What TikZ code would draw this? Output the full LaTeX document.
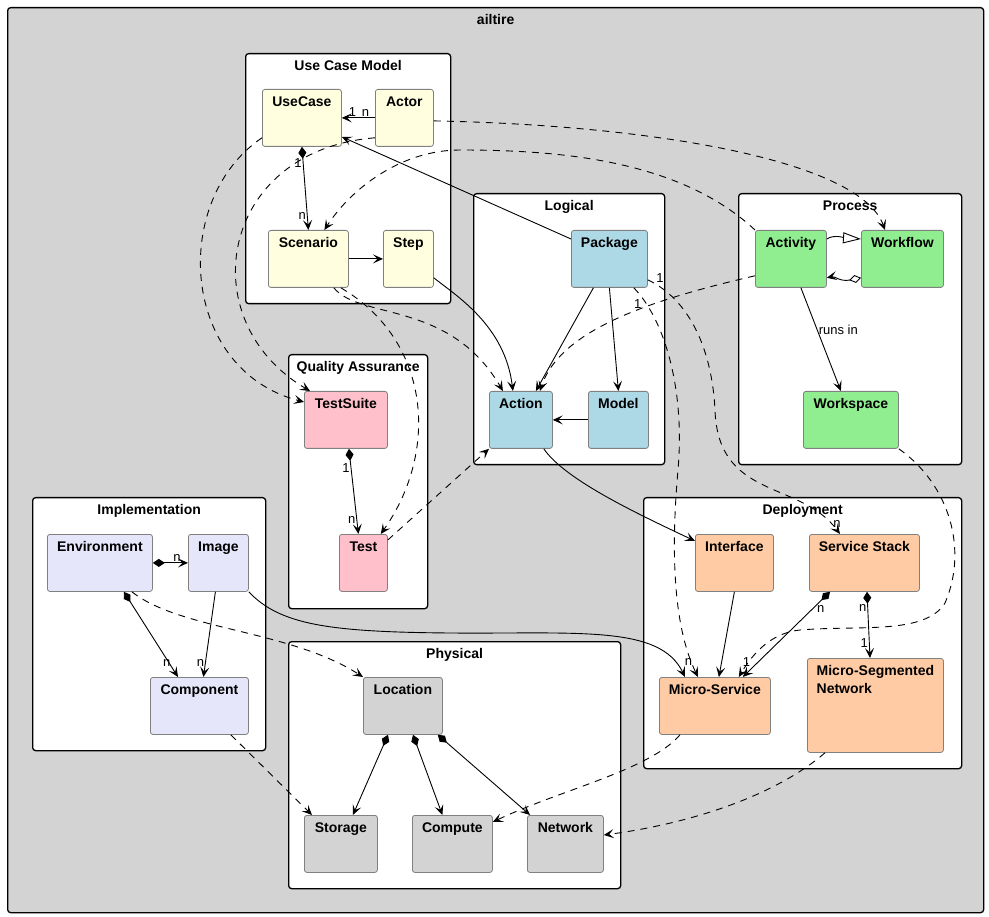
\documentclass[tikz,border=0pt]{standalone}
\usepackage{fontspec}
\setmainfont{Liberation Sans}
\usepackage{xcolor}
\usepackage{tikz}
\usetikzlibrary{calc,arrows.meta}

\definecolor{ucyellow}{HTML}{FFFFE0}
\definecolor{lgblue}{HTML}{ADD8E6}
\definecolor{prgreen}{HTML}{90EE90}
\definecolor{qapink}{HTML}{FFC0CB}
\definecolor{imlav}{HTML}{E6E6FA}
\definecolor{dppeach}{HTML}{FFCBA4}
\definecolor{phgray}{HTML}{D3D3D3}
\definecolor{clsline}{HTML}{808080}

\begin{document}
\begin{tikzpicture}[x=1pt,y=-1pt,line width=0.9pt,>={Stealth[length=10pt,width=9pt,inset=4.5pt]},
	pkg/.style={draw=black,line width=1.3pt,fill=white,rounded corners=3pt,anchor=north west,
		font=\bfseries\fontsize{14pt}{16pt}\selectfont,inner sep=0pt,text height=16.5pt},
	cls/.style={draw=clsline,line width=0.8pt,rounded corners=2.5pt,anchor=north west,
		font=\bfseries\fontsize{14pt}{16pt}\selectfont,inner sep=0pt,text height=17pt,text depth=40pt},
	dep/.style={->,dash pattern=on 7pt off 6pt},
	comp/.style={{Diamond[length=12pt,width=8pt]}->},
	mult/.style={font=\fontsize{13pt}{15pt}\selectfont,inner sep=1pt}]
	
	\fill[white] (0,0) rectangle (989,917);
	\useasboundingbox (0,0) rectangle (989,917);
	
	\node[pkg,fill=phgray,minimum width=976pt,text height=17pt,text depth=888pt] (Sys) at (7,7) {ailtire};
	
	\node[pkg,minimum width=205pt,text depth=233.5pt] (UCM) at (245,53) {Use Case Model};
	\node[pkg,minimum width=191pt,text depth=254.5pt] (LOG) at (473,193) {Logical};
	\node[pkg,minimum width=223pt,text depth=254.5pt] (PRC) at (738,193) {Process};
	\node[pkg,minimum width=139pt,text depth=237.5pt] (QA) at (288,354) {Quality Assurance};
	\node[pkg,minimum width=233pt,text depth=236.5pt] (IMP) at (32,497) {Implementation};
	\node[pkg,minimum width=318pt,text depth=254.5pt] (DEP) at (643,497) {Deployment};
	\node[pkg,minimum width=332pt,text depth=230.5pt] (PHY) at (288,641) {Physical};
	
	\node[cls,fill=ucyellow,minimum width=79pt] (UseCase) at (262,89) {UseCase};
	\node[cls,fill=ucyellow,minimum width=58pt] (Actor) at (375,89) {Actor};
	\node[cls,fill=ucyellow,minimum width=80pt] (Scenario) at (268,230) {Scenario};
	\node[cls,fill=ucyellow,minimum width=50pt] (Step) at (383,230) {Step};
	
	\node[cls,fill=lgblue,minimum width=76pt] (Package) at (571,230) {Package};
	\node[cls,fill=lgblue,minimum width=63pt] (Action) at (489,391) {Action};
	\node[cls,fill=lgblue,minimum width=60pt] (Model) at (588,391) {Model};
	
	\node[cls,fill=prgreen,minimum width=71pt] (Activity) at (755,230) {Activity};
	\node[cls,fill=prgreen,minimum width=82pt] (Workflow) at (861,230) {Workflow};
	\node[cls,fill=prgreen,minimum width=95pt] (Workspace) at (803,391) {Workspace};
	
	\node[cls,fill=qapink,minimum width=83pt] (TestSuite) at (304,391) {TestSuite};
	\node[cls,fill=qapink,minimum width=48pt] (Test) at (339,534) {Test};
	
	\node[cls,fill=imlav,minimum width=105pt] (Env) at (47,534) {Environment};
	\node[cls,fill=imlav,minimum width=60pt] (Image) at (188,534) {Image};
	\node[cls,fill=imlav,minimum width=98pt] (Component) at (150,677) {Component};
	
	\node[cls,fill=dppeach,minimum width=78pt] (Interface) at (695,534) {Interface};
	\node[cls,fill=dppeach,minimum width=110pt] (Stack) at (809,534) {Service Stack};
	\node[cls,fill=dppeach,minimum width=111pt] (MS) at (659,677) {Micro-Service};
	\node[cls,fill=dppeach,minimum width=136pt,font=\bfseries\fontsize{14pt}{18pt}\selectfont,
		text height=35pt,text depth=59pt,align=left] (MSN) at (807,658) {Micro-Segmented\\Network};
	
	\node[cls,fill=phgray,minimum width=79pt] (Location) at (363,677) {Location};
	\node[cls,fill=phgray,minimum width=73pt] (Storage) at (304,815) {Storage};
	\node[cls,fill=phgray,minimum width=80pt] (Compute) at (412,815) {Compute};
	\node[cls,fill=phgray,minimum width=76pt] (Network) at (527,815) {Network};
	
	\draw[->] (Actor.west) -- (UseCase.east) node[mult,pos=0.29,above]{n} node[mult,pos=0.68,above]{1};
	\draw[->] ($(Package.north west)+(0,9)$) -- ($(UseCase.south east)+(0,-10)$);
	\draw[comp] (UseCase.south) -- (Scenario.north) node[mult,pos=0.19,left]{1} node[mult,pos=0.83,left]{n};
	\draw[->] (Scenario.east) -- (Step.west);
	\draw[->] ($(Step.south east)+(0,-10)$) .. controls (455,295) and (505,325) .. ($(Action.north)+(-8,0)$);
	\draw[dep] ($(Actor.east)+(0,3)$) .. controls (650,125) and (860,160) .. ($(Workflow.north west)+(24,0)$);
	\draw[dep] (Activity.north west) .. controls (680,160) and (560,150) .. (460,150) .. controls (400,150) and (350,190) .. ($(Scenario.north)+(16,0)$);
	\draw[dep] ($(UseCase.south west)+(0,-9)$) .. controls (170,200) and (180,370) .. ($(TestSuite.north west)+(0,11)$);
	\draw[dep] ($(Actor.south west)+(0,-9)$) .. controls (220,150) and (190,320) .. ($(TestSuite.north west)+(6,0)$);
	\draw[dep] ($(Scenario.south east)+(-8,0)$) .. controls (430,340) and (440,450) .. ($(Test.north east)+(-7,0)$);
	\draw[dep] ($(Scenario.south east)+(-15,0)$) .. controls (360,320) and (450,300) .. ($(Action.north)+(-18,0)$);
	\draw[dep] ($(Test.north east)+(0,6)$) -- (Action.south west);
	\draw[comp] ($(TestSuite.south)+(3,0)$) -- ($(Test.north)+(-5,0)$) node[mult,pos=0.22,left]{1} node[mult,pos=0.84,left]{n};
	
	\draw[->] ($(Package.south)+(-16,0)$) -- ($(Action.north)+(15,0)$);
	\draw[->] (Package.south) -- (Model.north);
	\draw[->] (Model.west) -- (Action.east);
	\draw[dep] ($(Activity.south west)+(0,-12)$) .. controls (650,300) and (560,330) .. ($(Action.north)+(19,0)$);
	\draw[dep] ($(Package.south east)+(-14,0)$) .. controls (665,320) and (685,390) .. (678,470) node[mult,pos=0.1,below left]{1} .. controls (670,560) and (675,630) .. ($(MS.north west)+(39,0)$) node[mult,pos=0.9,left=-2pt]{n};
	\draw[dep] ($(Package.south east)+(0,-8)$) node[mult,anchor=west,xshift=7pt,yshift=2pt]{1} .. controls (690,300) and (712,350) .. (715,410) .. controls (718,500) and (800,480) .. ($(Stack.north west)+(31,0)$) node[mult,pos=0.93,right=1pt]{n};
	
	\draw[->] ($(Activity.south)+(10,0)$) -- ($(Workspace.north)+(-10,0)$) node[mult,pos=0.41,right]{runs in};
	\draw[-{Triangle[open,length=18pt,width=11pt]}] ($(Activity.north east)+(0,9)$) .. controls (834,234) and (846,238) .. ($(Workflow.north west)+(0,9)$);
	\draw[{Diamond[open,length=12pt,width=8pt]}->] ($(Workflow.south west)+(0,-10)$) .. controls (840,282) and (835,276) .. ($(Activity.south east)+(0,-10)$);
	\draw[dep] (Workspace.south east) .. controls (950,485) and (968,550) .. (945,603) .. controls (925,635) and (860,625) .. (800,630) .. controls (770,633) and (752,655) .. ($(MS.north east)+(-32,0)$);
	
	\draw[->] ($(Action.south east)+(-9,0)$) .. controls (565,480) and (640,515) .. ($(Interface.north west)+(0,7)$);
	\draw[->] (Image.south east) .. controls (280,625) and (330,632) .. (450,633) .. controls (580,634) and (660,625) .. ($(MS.north west)+(26,0)$);
	\draw[->] (Interface.south) -- ($(MS.north)+(4,0)$);
	\draw[comp] ($(Stack.south west)+(21,0)$) -- ($(MS.north east)+(-28,0)$) node[mult,pos=0.2,right=3pt]{n} node[mult,pos=0.83,left=6pt]{1};
	\draw[comp] ($(Stack.south west)+(58,0)$) -- ($(MSN.north west)+(63,0)$) node[mult,pos=0.25,left]{n} node[mult,pos=0.78,left]{1};
	
	\draw[comp] (Env.east) -- (Image.west) node[mult,pos=0.69,above]{n};
	\draw[comp] ($(Env.south)+(24,0)$) -- ($(Component.north west)+(28,0)$) node[mult,pos=0.83,left=-3pt]{n};
	\draw[->] ($(Image.south)+(-3,0)$) -- ($(Component.north)+(4,0)$) node[mult,pos=0.83,left]{n};
	\draw[dep] ($(Env.south)+(32,0)$) .. controls (180,630) and (290,630) .. (Location.north west);
	\draw[dep] ($(Component.south east)+(-18,0)$) -- ($(Storage.north west)+(8,0)$);
	
	\draw[comp] ($(Location.south west)+(25,0)$) -- ($(Storage.north)+(12,0)$);
	\draw[comp] ($(Location.south west)+(50,0)$) -- ($(Compute.north)+(-10,0)$);
	\draw[comp] ($(Location.south east)+(-5,0)$) -- ($(Network.north west)+(3,0)$);
	\draw[dep] ($(MS.south west)+(21,0)$) .. controls (650,770) and (560,790) .. ($(Compute.north east)+(0,7)$);
	\draw[dep] ($(MSN.south west)+(18,0)$) .. controls (770,800) and (680,825) .. ($(Network.north east)+(0,20)$);
\end{tikzpicture}
\end{document}
